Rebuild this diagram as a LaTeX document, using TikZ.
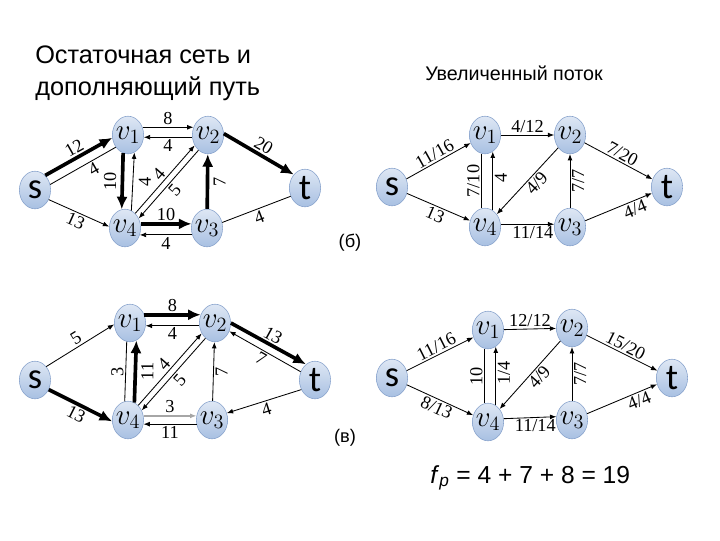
\documentclass[tikz,border=0pt]{standalone}
\usepackage{fontspec}
\setmainfont{Liberation Sans}
\newfontfamily\numfont{Liberation Serif}
\newfontfamily\stfont{Carlito}
\usetikzlibrary{shapes.geometric,arrows.meta}

\definecolor{nodetop}{RGB}{222,231,244}
\definecolor{nodebot}{RGB}{168,192,226}
\definecolor{nodeline}{RGB}{135,162,204}

\begin{document}
\begin{tikzpicture}[x=0.025cm, y=-0.025cm,
  vtx/.style={ellipse, draw=nodeline, top color=nodetop, bottom color=nodebot,
    minimum width=0.78cm, minimum height=0.94cm, inner sep=-3pt},
  vlabel/.style={vtx, font=\fontsize{21}{21}\selectfont},
  stlabel/.style={vtx, font=\stfont\fontsize{26}{26}\selectfont},
  elabel/.style={font=\numfont\fontsize{13}{13}\selectfont, inner sep=1.2pt},
  resarc/.style={line width=0.6pt, -{Latex[length=4.5pt,width=3.5pt]}},
  patharc/.style={line width=2.6pt, -{Latex[length=9pt,width=8pt]}},
  plainarc/.style={line width=0.6pt}]

  \useasboundingbox (0,0) rectangle (720,540);

  % Titles
  \node[anchor=base west, inner sep=0pt, font=\fontsize{18}{18}\selectfont] (title1) at (35,63) {Остаточная сеть и};
  \node[anchor=base west, inner sep=0pt, font=\fontsize{18}{18}\selectfont] (title2) at (35,95) {дополняющий путь};
  \node[anchor=base, inner sep=0pt, font=\fontsize{14}{14}\selectfont] (title3) at (514,80) {Увеличенный поток};

  % Residual network (top left)
  \begin{scope}[name prefix=a-]
    \node[stlabel] (s) at (35,190) {s};
    \node[vlabel] (v1) at (128,135) {$v_1$};
    \node[vlabel] (v2) at (208,135) {$v_2$};
    \node[vlabel] (v3) at (207,228) {$v_3$};
    \node[vlabel] (v4) at (125,228) {$v_4$};
    \node[stlabel] (t) at (305,188) {t};

    \draw[patharc] (s.55) -- node[elabel, above, sloped] {12} (v1.190);
    \draw[plainarc] (s.20) -- node[elabel, below, sloped, pos=0.6] {4} (v1.225);
    \draw[resarc] (s.-35) -- node[elabel, below, sloped] {13} (v4.175);
    \draw[resarc] (v1.28) -- node[elabel, above] {8} (v2.152);
    \draw[resarc] (v2.188) -- node[elabel, below] {4} (v1.-8);
    \draw[patharc] (v1.255) -- node[elabel, rotate=90, anchor=south, inner sep=3pt] {10} (v4.100);
    \draw[resarc] (v4.70) -- node[elabel, rotate=90, anchor=north, inner sep=4pt] {4} (v1.290);
    \draw[resarc] (v4.55) -- node[elabel, above, sloped] {4} (v2.218);
    \draw[resarc] (v2.238) -- node[elabel, below, sloped] {5} (v4.35);
    \draw[patharc] (v3) -- node[elabel, rotate=90, anchor=north, inner sep=3pt] {7} (v2);
    \draw[patharc] (v2.5) -- node[elabel, above, sloped] {20} (t.130);
    \draw[patharc] (v4.15) -- node[elabel, above] {10} (v3.165);
    \draw[resarc] (v3.205) -- node[elabel, below] {4} (v4.-25);
    \draw[plainarc] (t.210) -- node[elabel, below, sloped] {4} (v3.20);
  \end{scope}

  % Augmented flow (top right)
  \begin{scope}[name prefix=b-]
    \node[stlabel] (s) at (392,187) {s};
    \node[vlabel] (v1) at (485,135) {$v_1$};
    \node[vlabel] (v2) at (570,135) {$v_2$};
    \node[vlabel] (v3) at (570,227) {$v_3$};
    \node[vlabel] (v4) at (485,227) {$v_4$};
    \node[stlabel] (t) at (667,187) {t};

    \draw[resarc] (s) -- node[elabel, above, sloped] {11/16} (v1);
    \draw[resarc] (s) -- node[elabel, below, sloped] {13} (v4);
    \draw[resarc] (v1) -- node[elabel, above] {4/12} (v2);
    \draw[resarc] (v2) -- node[elabel, above, sloped] {7/20} (t);
    \draw[plainarc] (v1.260) -- node[elabel, rotate=90, anchor=south] {7/10} (v4.100);
    \draw[resarc] (v4.65) -- node[elabel, rotate=90, anchor=north, pos=0.55] {4} (v1.295);
    \draw[resarc] (v2) -- node[elabel, below, sloped, pos=0.45] {4/9} (v4);
    \draw[resarc] (v3) -- node[elabel, rotate=90, anchor=north] {7/7} (v2);
    \draw[resarc] (v4.10) -- node[elabel, below, pos=0.6] {11/14} (v3.170);
    \draw[resarc] (v3) -- node[elabel, below, sloped, pos=0.7] {4/4} (t);
  \end{scope}
  \node[font=\fontsize{13}{13}\selectfont] (capb) at (350,243) {(б)};

  % Residual network (bottom left)
  \begin{scope}[name prefix=c-]
    \node[stlabel] (s) at (35,380) {s};
    \node[vlabel] (v1) at (130,323) {$v_1$};
    \node[vlabel] (v2) at (215,323) {$v_2$};
    \node[vlabel] (v3) at (212,420) {$v_3$};
    \node[vlabel] (v4) at (128,420) {$v_4$};
    \node[stlabel] (t) at (315,380) {t};

    \draw[resarc] (s.50) -- node[elabel, above, sloped] {5} (v1.185);
    \draw[patharc] (s.-35) -- node[elabel, below, sloped] {13} (v4.185);
    \draw[patharc] (v1.30) -- node[elabel, above] {8} (v2.150);
    \draw[resarc] (v2.190) -- node[elabel, below] {4} (v1.-10);
    \draw[plainarc] (v4.100) -- node[elabel, rotate=90, anchor=south] {3} (v1.260);
    \draw[patharc] (v4.70) -- node[elabel, rotate=90, anchor=north, inner sep=3pt] {11} (v1.290);
    \draw[resarc] (v4.55) -- node[elabel, above, sloped] {4} (v2.218);
    \draw[resarc] (v2.238) -- node[elabel, below, sloped] {5} (v4.35);
    \draw[patharc] (v2.0) -- node[elabel, above, sloped] {13} (t.120);
    \draw[resarc] (t.150) -- node[elabel, below, sloped] {7} (v2.-30);
    \draw[resarc] (v3) -- node[elabel, rotate=90, anchor=north] {7} (v2);
    \draw[resarc] (t.215) -- node[elabel, below, sloped] {4} (v3.25);
    \draw[resarc, draw=gray!70, line width=1.6pt] (v4.15) -- node[elabel, above] {3} (v3.165);
    \draw[resarc] (v3.195) -- node[elabel, below] {11} (v4.-15);
  \end{scope}
  \node[font=\fontsize{13}{13}\selectfont] (capv) at (345,438) {(в)};

  % Augmented flow (bottom right)
  \begin{scope}[name prefix=d-]
    \node[stlabel] (s) at (392,378) {s};
    \node[vlabel] (v1) at (488,330) {$v_1$};
    \node[vlabel] (v2) at (572,328) {$v_2$};
    \node[vlabel] (v3) at (572,420) {$v_3$};
    \node[vlabel] (v4) at (488,422) {$v_4$};
    \node[stlabel] (t) at (672,378) {t};

    \draw[resarc] (s) -- node[elabel, above, sloped] {11/16} (v1);
    \draw[resarc] (s) -- node[elabel, below, sloped] {8/13} (v4);
    \draw[resarc] (v1) -- node[elabel, above] {12/12} (v2);
    \draw[resarc] (v2) -- node[elabel, above, sloped] {15/20} (t);
    \draw[plainarc] (v4.100) -- node[elabel, rotate=90, anchor=south] {10} (v1.260);
    \draw[resarc] (v4.65) -- node[elabel, rotate=90, anchor=north, pos=0.55] {1/4} (v1.295);
    \draw[resarc] (v2) -- node[elabel, below, sloped, pos=0.45] {4/9} (v4);
    \draw[resarc] (v3) -- node[elabel, rotate=90, anchor=north] {7/7} (v2);
    \draw[resarc] (v4.12) -- node[elabel, below, pos=0.6] {11/14} (v3.168);
    \draw[resarc] (v3) -- node[elabel, below, sloped, pos=0.7] {4/4} (t);
  \end{scope}

  % Flow value
  \node[anchor=base west, inner sep=0pt, font=\fontsize{17.5}{17.5}\selectfont] (flow) at (430,483) {\textit{f}\textsubscript{\textit{p}} = 4 + 7 + 8 = 19};

\end{tikzpicture}
\end{document}
